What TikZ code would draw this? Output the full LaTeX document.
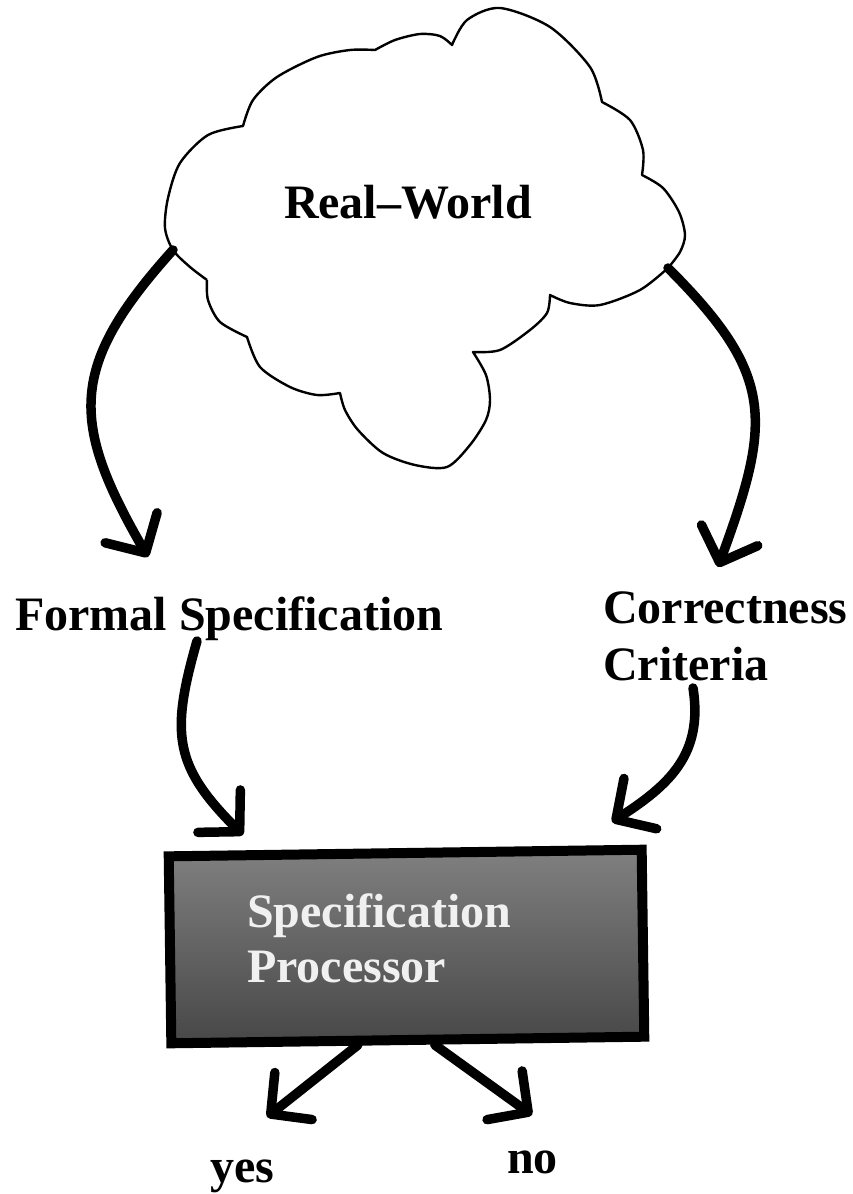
\documentclass[tikz,border=0pt]{standalone}
\usepackage{fontspec}
\setmainfont{Liberation Serif}
\usetikzlibrary{arrows.meta}

\begin{document}
\begin{tikzpicture}[x=1pt,y=-1pt,
	lbl/.style={inner sep=0pt, font=\fontsize{48}{55}\selectfont\bfseries},
	flow/.style={line width=9.5pt, line cap=round,
		-{Straight Barb[length=29pt,width=60pt,line cap=round,line join=round]}},
	cloudline/.style={line width=2.4pt, line join=round},
	procbox/.style={draw, line width=10pt, minimum width=473pt, minimum height=187pt,
		inner sep=0pt, top color=black!50, bottom color=black!72, rotate=0.8},
	proctext/.style={lbl, text=black!6}]
	\useasboundingbox (0,0) rectangle (853,1194);

	% the real world
	\draw[cloudline]
		plot[smooth] coordinates {(207,280) (190,267) (173,250) (165,228) (168,198) (180,163) (208,135) (243,126)}
		-- plot[smooth] coordinates {(243,126) (253,100) (277,77) (317,57) (350,50) (375,50)}
		-- plot[smooth] coordinates {(375,50) (395,40) (420,34) (440,36) (452,45)}
		-- plot[smooth] coordinates {(452,45) (467,20) (500,8) (550,27) (590,67) (602,102)}
		-- plot[smooth] coordinates {(602,102) (630,120) (643,150) (642,175)}
		-- plot[smooth] coordinates {(642,175) (663,188) (679,212) (685,235) (680,252) (668,268)}
		-- plot[smooth] coordinates {(668,268) (640,290) (600,305) (570,303) (550,295)}
		-- plot[smooth] coordinates {(550,295) (547,313) (530,330) (500,350) (473,352)}
		-- plot[smooth] coordinates {(473,352) (486,375) (490,400) (486,420) (470,445) (447,467) (415,465) (383,453) (358,430) (345,410) (340,393)}
		-- plot[smooth] coordinates {(340,393) (317,395) (290,387) (260,367) (247,337)}
		-- plot[smooth] coordinates {(247,337) (220,322) (208,300) (207,280)};
	\node[lbl, anchor=base] (rw) at (408,218) {Real--World};
	\coordinate (rwL) at (173,250);
	\coordinate (rwR) at (668,268);

	\node[lbl, anchor=base west] (fs) at (15,630) {Formal Specification};
	\node[lbl, anchor=base west] (cc) at (603,623) {Correctness};
	\node[lbl, anchor=base west] (cc2) at (603,680) {Criteria};
	\coordinate (fsIn) at (148,557);
	\coordinate (ccIn) at (718,567);
	\coordinate (fsOut) at (197,641);
	\coordinate (ccOut) at (693,688);

	\node[procbox] (proc) at (406.5,946.5) {};
	\node[proctext, anchor=base west] (sp) at (247,927) {Specification};
	\node[proctext, anchor=base west] (pr) at (247,982) {Processor};
	\coordinate (procL) at (243,835);
	\coordinate (procR) at (612,822);

	\coordinate (yesIn) at (267,1117);
	\coordinate (noIn) at (532,1115);
	\node[lbl, anchor=base west] (yes) at (210,1182) {yes};
	\node[lbl, anchor=base west] (no) at (507,1173) {no};

	\draw[flow] (rwL) to[out=228,in=120,looseness=1.3] (fsIn);
	\draw[flow] (rwR) .. controls (775,375) and (772,420) .. (ccIn);
	\draw[flow] (fsOut) to[out=254,in=135,looseness=1.25] (procL);
	\draw[flow] (ccOut) to[out=279,in=33,looseness=1.1] (procR);
	\draw[flow] ([xshift=-50pt]proc.south) to (yesIn);
	\draw[flow] ([xshift=27pt]proc.south) to (noIn);
\end{tikzpicture}
\end{document}
